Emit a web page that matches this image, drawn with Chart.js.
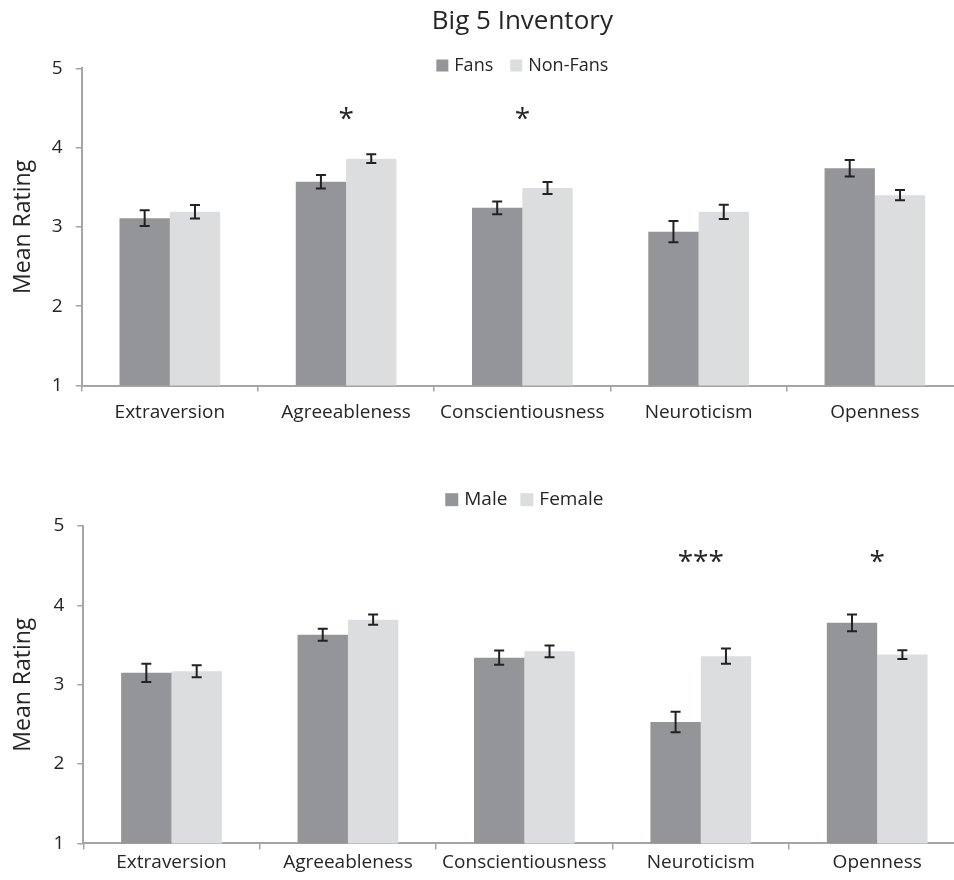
<!DOCTYPE html>
<html>
<head>
<meta charset="utf-8">
<title>Big 5 Inventory</title>
<script src="https://cdn.jsdelivr.net/npm/chart.js@4"></script>
<style>
  html, body { margin: 0; padding: 0; background: #fff; overflow: hidden; width: 954px; height: 880px; }
  canvas.panel { position: absolute; left: 0; }
</style>
</head>
<body>
<canvas id="fansChart" class="panel" width="975" height="440" style="top:0;width:975px;height:440px"></canvas>
<canvas id="genderChart" class="panel" width="975" height="445" style="top:440px;width:975px;height:445px"></canvas>
<script>
// Big Five trait means (1-5 scale) with standard errors
const traits = ['Extraversion', 'Agreeableness', 'Conscientiousness', 'Neuroticism', 'Openness'];
const ratingTicks = [1, 2, 3, 4, 5];

const fansMean    = [3.11, 3.57, 3.24, 2.94, 3.74];
const fansErr     = [0.10, 0.085, 0.08, 0.135, 0.105];
const nonFansMean = [3.19, 3.86, 3.49, 3.19, 3.40];
const nonFansErr  = [0.085, 0.055, 0.075, 0.09, 0.065];

const maleMean    = [3.15, 3.63, 3.34, 2.53, 3.78];
const maleErr     = [0.115, 0.075, 0.09, 0.13, 0.105];
const femaleMean  = [3.17, 3.82, 3.42, 3.36, 3.38];
const femaleErr   = [0.075, 0.065, 0.075, 0.095, 0.055];

// significance markers per trait
const fansSig   = ['', '*', '*', '', ''];
const genderSig = ['', '', '', '***', '*'];

const DARK = '#939598';
const LIGHT = '#dcdddf';
const AXIS = '#a5a5a5';
const TEXT = '#262626';
const FONT = "'Open Sans', sans-serif";

Chart.defaults.font.family = FONT;
Chart.defaults.color = TEXT;

// Vertical error bars with caps, drawn over each bar
const errorBars = {
  id: 'errorBars',
  afterDatasetsDraw(chart, args, opts) {
    const { ctx } = chart;
    const y = chart.scales.y;
    ctx.save();
    ctx.strokeStyle = opts.color;
    ctx.lineWidth = opts.width;
    chart.data.datasets.forEach((ds, i) => {
      const meta = chart.getDatasetMeta(i);
      if (!ds.errors || meta.hidden) return;
      meta.data.forEach((bar, j) => {
        const v = ds.data[j], e = ds.errors[j];
        const top = y.getPixelForValue(v + e);
        const bot = y.getPixelForValue(v - e);
        const x = bar.x, c = opts.cap / 2;
        ctx.beginPath();
        ctx.moveTo(x, top); ctx.lineTo(x, bot);
        ctx.moveTo(x - c, top); ctx.lineTo(x + c, top);
        ctx.moveTo(x - c, bot); ctx.lineTo(x + c, bot);
        ctx.stroke();
      });
    });
    ctx.restore();
  }
};

// Asterisks above each significant pair
const sigMarks = {
  id: 'sigMarks',
  afterDatasetsDraw(chart, args, opts) {
    if (!opts.marks) return;
    const { ctx } = chart;
    const x = chart.scales.x, y = chart.scales.y;
    ctx.save();
    ctx.fillStyle = TEXT;
    ctx.font = `${opts.size}px ${FONT}`;
    ctx.textAlign = 'center';
    ctx.textBaseline = 'middle';
    const py = y.getPixelForValue(opts.level);
    opts.marks.forEach((m, j) => {
      if (m) ctx.fillText(m, x.getPixelForValue(j), py);
    });
    ctx.restore();
  }
};

// Series key: square swatch + name for each dataset, centred over the plot
const seriesKey = {
  id: 'seriesKey',
  afterDraw(chart, args, opts) {
    const { ctx, chartArea } = chart;
    ctx.save();
    ctx.font = `${opts.size}px ${FONT}`;
    ctx.textBaseline = 'middle';
    ctx.textAlign = 'left';
    const items = chart.data.datasets.map(ds => ({
      text: ds.label, color: ds.backgroundColor, w: ctx.measureText(ds.label).width
    }));
    const total = items.reduce((s, it) => s + opts.box + opts.gap + it.w, 0) + opts.spacing * (items.length - 1);
    let x = (chartArea.left + chartArea.right) / 2 - total / 2;
    items.forEach(it => {
      ctx.fillStyle = it.color;
      ctx.fillRect(x, opts.y - opts.box / 2, opts.box, opts.box);
      x += opts.box + opts.gap;
      ctx.fillStyle = TEXT;
      ctx.fillText(it.text, x, opts.y);
      x += it.w + opts.spacing;
    });
    ctx.restore();
  }
};

function buildChart(canvas, cfg) {
  return new Chart(canvas, {
    type: 'bar',
    data: {
      labels: traits,
      datasets: cfg.series.map(s => ({
        label: s.label,
        data: s.data,
        errors: s.errors,
        backgroundColor: s.color,
        borderWidth: 0,
        categoryPercentage: 0.571,
        barPercentage: 1.0
      }))
    },
    options: {
      responsive: false,
      animation: false,
      layout: { padding: cfg.padding },
      plugins: {
        title: cfg.title ? {
          display: true,
          text: cfg.title,
          fullSize: false,
          color: TEXT,
          font: { family: FONT, size: 26, weight: 'normal' },
          padding: { top: 6, bottom: 31.1 }
        } : { display: false },
        legend: { display: false },
        tooltip: { enabled: false },
        seriesKey: cfg.key,
        errorBars: { color: '#222', width: 2, cap: 10 },
        sigMarks: { marks: cfg.sig, level: cfg.sigLevel, size: 28 }
      },
      scales: {
        x: {
          grid: {
            display: true, drawOnChartArea: false, drawTicks: true,
            tickLength: 6, color: AXIS, lineWidth: 1.5, offset: true
          },
          border: { display: true, color: AXIS, width: 2 },
          ticks: {
            font: { family: FONT, size: 19 }, color: TEXT,
            padding: cfg.xPad, maxRotation: 0, autoSkip: false
          }
        },
        y: {
          min: 1, max: 5,
          afterBuildTicks: s => { s.ticks = ratingTicks.map(v => ({ value: v })); },
          afterFit: s => { s.width = cfg.axisWidth; },
          grid: {
            display: true, drawOnChartArea: false, drawTicks: true,
            tickLength: 6, color: AXIS, lineWidth: 1.5
          },
          border: { display: true, color: AXIS, width: 2 },
          ticks: { font: { family: FONT, size: 19 }, color: TEXT, padding: 13 },
          title: {
            display: true,
            text: 'Mean Rating',
            color: TEXT,
            font: { family: FONT, size: 23 },
            padding: { top: 9.2, bottom: 4 }
          }
        }
      }
    },
    plugins: [errorBars, sigMarks, seriesKey]
  });
}

buildChart(document.getElementById('fansChart'), {
  title: 'Big 5 Inventory',
  series: [
    { label: 'Fans', data: fansMean, errors: fansErr, color: DARK },
    { label: 'Non-Fans', data: nonFansMean, errors: nonFansErr, color: LIGHT }
  ],
  key: { y: 65.5, size: 18, box: 12, gap: 6, spacing: 17 },
  sig: fansSig,
  sigLevel: 4.35,
  padding: { left: 0, right: 12, top: 0, bottom: 5.7 },
  axisWidth: 81.7,
  xPad: 10
});

buildChart(document.getElementById('genderChart'), {
  title: null,
  series: [
    { label: 'Male', data: maleMean, errors: maleErr, color: DARK },
    { label: 'Female', data: femaleMean, errors: femaleErr, color: LIGHT }
  ],
  key: { y: 59.7, size: 19, box: 13, gap: 6, spacing: 13 },
  sig: genderSig,
  sigLevel: 4.53,
  padding: { left: 0, right: 9.6, top: 86, bottom: 8.8 },
  axisWidth: 83.3,
  xPad: 2
});
</script>
</body>
</html>
